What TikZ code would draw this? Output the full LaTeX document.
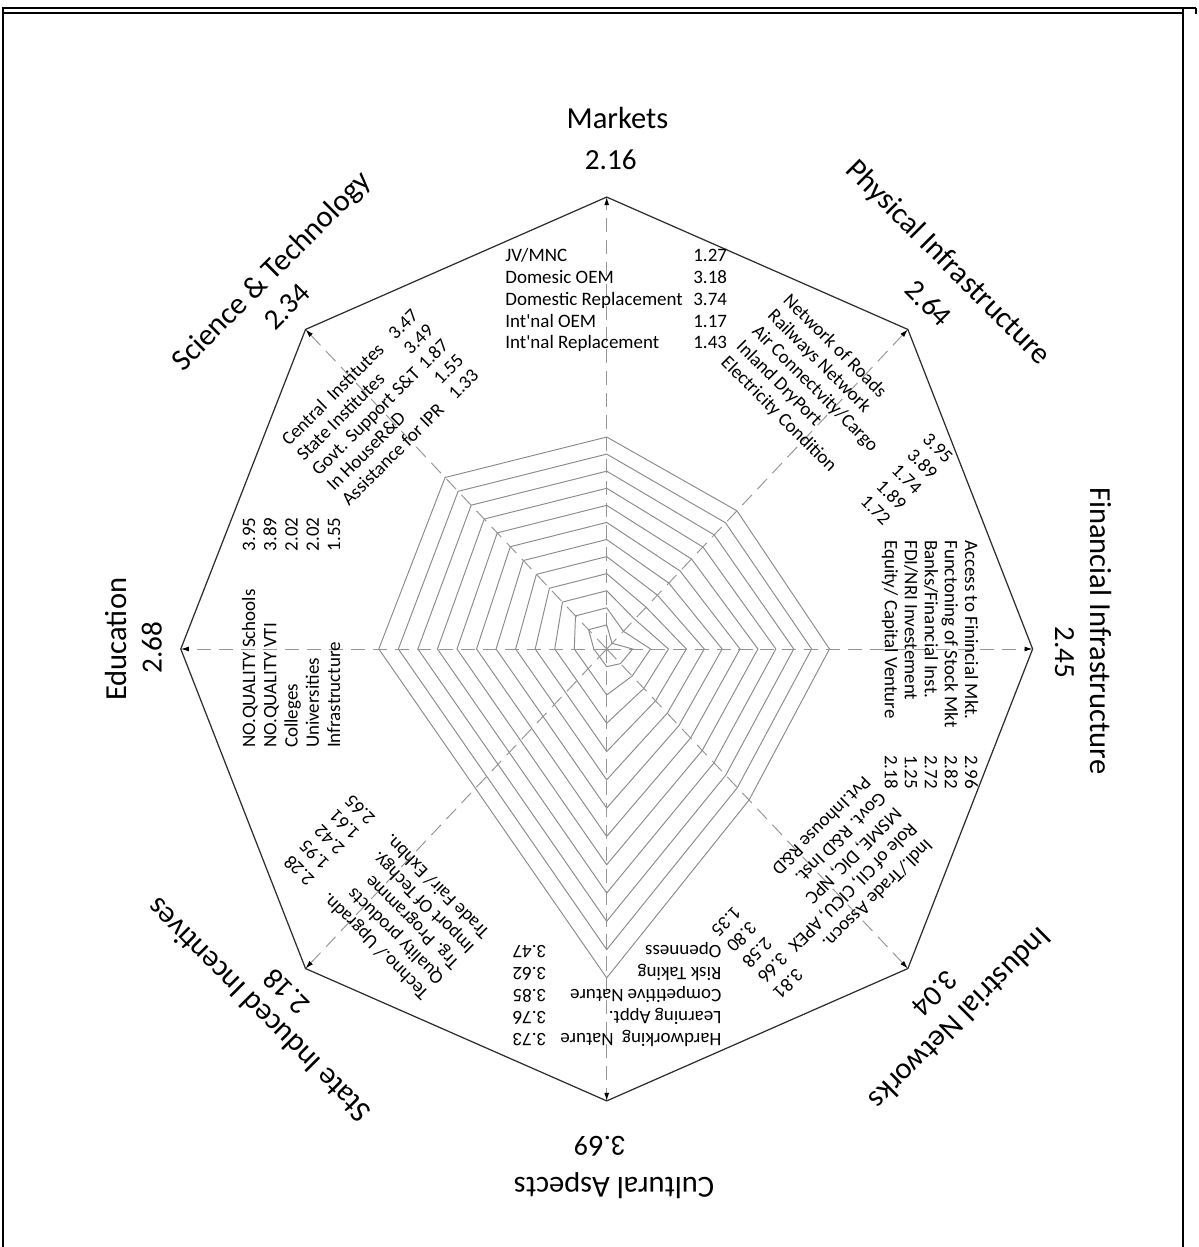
\documentclass[tikz,border=0pt]{standalone}
\usepackage{fontspec}
\setmainfont{Carlito}
\usetikzlibrary{arrows.meta}

\definecolor{ringgray}{RGB}{140,140,140}
\definecolor{spokegray}{RGB}{150,150,150}
\definecolor{edgegray}{RGB}{45,45,45}

% a column of lines whose first baseline is the node's baseline
\newcommand\lines[2]{{\fontsize{10.8pt}{#1}\selectfont\begin{tabular}[t]{@{}l@{}}#2\end{tabular}}}

\tikzset{
  ring/.style={draw=ringgray, line width=0.55pt},
  rim/.style={draw=edgegray, line width=0.7pt, line join=miter},
  spoke/.style={draw=spokegray, line width=0.55pt, dash pattern=on 8pt off 4.5pt,
                -{Latex[length=4.6pt,width=2.8pt,color=black]}},
  lbl/.style={inner sep=0pt, anchor=base west},
  ttl/.style={inner sep=0pt, anchor=base, font=\fontsize{17.4pt}{20pt}\selectfont},
  scr/.style={inner sep=0pt, anchor=base, font=\fontsize{16.6pt}{20pt}\selectfont},
  frame/.style={draw=black, line width=0.9pt}
}

\begin{document}
\begin{tikzpicture}[x=0.02cm, y=0.02cm]
\useasboundingbox (0,0) rectangle (1198,1247);
\fill[white] (0,0) rectangle (1198,1247);

% page frame
\draw[frame] (3,0) -- (3,1239) -- (1196,1239);
\draw[frame] (3,1234) -- (1183,1234);
\draw[frame] (1183,0) -- (1183,1239);
\draw[frame] (1196,1239) -- (1196,1233);

\begin{scope}[shift={(606.7,598)}]
  % radar grid: octagon of unit radius, stretched
  \begin{scope}[x=8.52cm, y=9.04cm]
    \coordinate (o) at (0,0);
    \foreach \t [count=\i from 0] in {0,45,...,315}
      \coordinate (v\i) at (\t:1);
    \foreach \k in {1,...,12}
      \draw[ring] (0:{0.019+0.042*\k})
        \foreach \t/\a/\b in {45/-0.02/0.0377, 90/0.0155/0.0378, 135/0.017/0.0433,
                             180/-0.0157/0.0459, 225/-0.0134/0.03745,
                             270/-0.0235/0.0626, 315/0.007/0.0388}
          { -- (\t:{\a+\b*\k}) } -- cycle;
    \draw[rim] (v0) -- (v1) -- (v2) -- (v3) -- (v4) -- (v5) -- (v6) -- (v7) -- cycle;
    \foreach \i in {0,...,7}
      \draw[spoke] (o) -- (v\i);
  \end{scope}

  % Markets
  \begin{scope}[rotate=0]
    \node[ttl, rotate=0] (t-mk) at (10.8,520.7) {Markets};
    \node[scr, rotate=0] (s-mk) at (4.1,479) {2.16};
    \node[lbl, rotate=0] (n-mk) at (-101.7,387) {\lines{12.35pt}{JV/MNC\\Domesic OEM\\Domestic Replacement\\Int\textquotesingle nal OEM\\Int\textquotesingle nal Replacement}};
    \node[lbl, rotate=0] (d-mk) at (86.3,387) {\lines{12.35pt}{1.27\\3.18\\3.74\\1.17\\1.43}};
  \end{scope}

  % Physical Infrastructure
  \begin{scope}[rotate=-45]
    \node[ttl, rotate=-45] (t-ph) at (-32,506) {Physical Infrastructure};
    \node[scr, rotate=-45] (s-ph) at (-17,462.5) {2.64};
    \node[lbl, rotate=-45] (n-ph) at (-122,370) {\lines{12.5pt}{Network of Roads\\Railways Network\\Air Connectvity/Cargo\\Inland DryPort\\Electricity Condition}};
    \node[lbl, rotate=-45] (d-ph) at (75,370) {\lines{12.5pt}{3.95\\3.89\\1.74\\1.89\\1.72}};
  \end{scope}

  % Financial Infrastructure
  \begin{scope}[rotate=-90]
    \node[ttl, rotate=-90] (t-fi) at (-18.2,483.3) {Financial Infrastructure};
    \node[scr, rotate=-90] (s-fi) at (3.5,448.3) {2.45};
    \node[lbl, rotate=-90] (n-fi) at (-109,358.3) {\lines{11.4pt}{Access to Finincial Mkt.\\Functoning of Stock Mkt\\Banks/Financial Inst.\\FDI/NRI Investement\\Equity/ Capital Venture}};
    \node[lbl, rotate=-90] (d-fi) at (106,358.3) {\lines{11.4pt}{2.96\\2.82\\2.72\\1.25\\2.18}};
  \end{scope}

  % Industrial Networks
  \begin{scope}[rotate=-135]
    \node[ttl, rotate=-135] (t-in) at (11.3,501.6) {Industrial Networks};
    \node[scr, rotate=-135] (s-in) at (11.3,466.2) {3.04};
    \node[lbl, rotate=-135] (n-in) at (-92,359) {\lines{12.5pt}{Indl./Trade Assocn.\\Role of CII, CICU, APEX\\MSME, DIC, NPC\\Govt. R\&D Inst.\\Pvt.Inhouse R\&D}};
    \node[lbl, rotate=-135] (d-in) at (91,359) {\lines{12.5pt}{3.81\\3.66\\2.58\\3.80\\1.35}};
  \end{scope}

  % Cultural Aspects
  \begin{scope}[rotate=180]
    \node[ttl, rotate=180] (t-cu) at (-7.3,529) {Cultural Aspects};
    \node[scr, rotate=180] (s-cu) at (6.7,488) {3.69};
    \node[lbl, rotate=180] (n-cu) at (-115,384.3) {\lines{12.5pt}{Hardworking~ Nature\\Learning Appt.\\Competitive Nature\\Risk Taking\\Openness}};
    \node[lbl, rotate=180] (d-cu) at (60,384.3) {\lines{12.5pt}{3.73\\3.76\\3.85\\3.62\\3.47}};
  \end{scope}

  % State Induced Incentives
  \begin{scope}[rotate=135]
    \node[ttl, rotate=135] (t-st) at (-9.4,491.7) {State Induced Incentives};
    \node[scr, rotate=135] (s-st) at (-16,459.2) {2.18};
    \node[lbl, rotate=135] (n-st) at (-118,368) {\lines{12.2pt}{Techno./ Upgradn.\\Quality products\\Trg. Programme\\Import Of Techgy.\\Trade Fair/ Exhbn.}};
    \node[lbl, rotate=135] (d-st) at (43.6,368) {\lines{12.2pt}{2.28\\1.95\\2.42\\1.61\\2.65}};
  \end{scope}

  % Education
  \begin{scope}[rotate=90]
    \node[ttl, rotate=90] (t-ed) at (9.8,480) {Education};
    \node[scr, rotate=90] (s-ed) at (1.5,445) {2.68};
    \node[lbl, rotate=90] (n-ed) at (-99.3,351.7) {\lines{12.1pt}{NO.QUALITY Schools\\NO.QUALITY VTI\\Colleges\\Universities\\Infrastructure}};
    \node[lbl, rotate=90] (d-ed) at (97.3,351.7) {\lines{12.1pt}{3.95\\3.89\\2.02\\2.02\\1.55}};
  \end{scope}

  % Science & Technology
  \begin{scope}[rotate=45]
    \node[ttl, rotate=45] (t-sc) at (30,495) {Science \& Technology};
    \node[scr, rotate=45] (s-sc) at (15.8,459) {2.34};
    \node[lbl, rotate=45] (n-sc) at (-82,367.5) {\lines{12.1pt}{Central~ Institutes\\State Institutes\\Govt. Support S\&T\\In HouseR\&D\\Assistance for IPR}};
    \node[lbl, rotate=45] (d-sc) at (68.8,367.5) {\lines{12.1pt}{3.47\\3.49\\1.87\\1.55\\1.33}};
  \end{scope}
\end{scope}
\end{tikzpicture}
\end{document}
